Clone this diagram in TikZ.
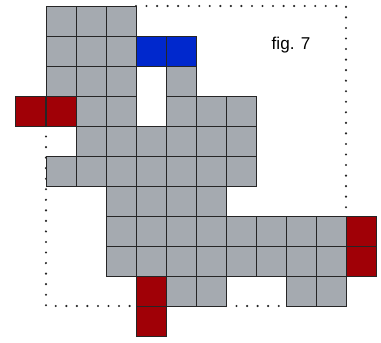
\documentclass[tikz,border=0pt]{standalone}
\usepackage{fontspec}
\setsansfont{Liberation Sans}
\usetikzlibrary{positioning}
\definecolor{cellgray}{RGB}{165,170,176}
\definecolor{cellblue}{RGB}{0,40,205}
\definecolor{cellred}{RGB}{160,0,6}
\tikzset{
  cell/.style={draw=black!85,line width=0.7pt,minimum size=0.8cm,inner sep=0pt,fill=cellgray},
  bluecell/.style={cell,fill=cellblue},
  redcell/.style={cell,fill=cellred},
  border/.style={line width=1.8pt,line cap=round,dash pattern=on 0pt off 8pt,black!85}
}

\begin{document}
\begin{tikzpicture}[x=0.8cm,y=0.8cm]
    \useasboundingbox (-1.533,0.2) rectangle (11.167,-11.2);
    % dotted outline
    \draw[border] (3,0) -- (10,0) -- (10,-7);
    \draw[border] (0,-4) -- (0,-10) -- (3,-10);
    \draw[border] (6,-10) -- (8,-10);
    % gray cells, row by row
    \foreach \r/\cols in {0/{0,1,2}, 1/{0,1,2}, 2/{0,1,2,4}, 3/{1,2,4,5,6},
                          4/{1,2,3,4,5,6}, 5/{0,1,2,3,4,5,6}, 6/{2,3,4,5},
                          7/{2,3,4,5,6,7,8,9}, 8/{2,3,4,5,6,7,8,9}, 9/{4,5,8,9}}
      \foreach \c in \cols
        \node[cell] (g-\r-\c) at (\c+0.5,-\r-0.5) {};
    % blue cells
    \node[bluecell] (b-1-3) at (3.5,-1.5) {};
    \node[bluecell, right=0pt of b-1-3] (b-1-4) {};
    % red cells
    \node[redcell] (r-3-0) at (0.5,-3.5) {};
    \node[redcell, left=0pt of r-3-0] (r-3-m) {};
    \node[redcell] (r-7-10) at (10.5,-7.5) {};
    \node[redcell, below=0pt of r-7-10] (r-8-10) {};
    \node[redcell] (r-9-3) at (3.5,-9.5) {};
    \node[redcell, below=0pt of r-9-3] (r-10-3) {};
    \node[font=\sffamily\fontsize{13}{15}\selectfont] (fig) at (8.17,-1.3) {fig. 7};
\end{tikzpicture}
\end{document}
